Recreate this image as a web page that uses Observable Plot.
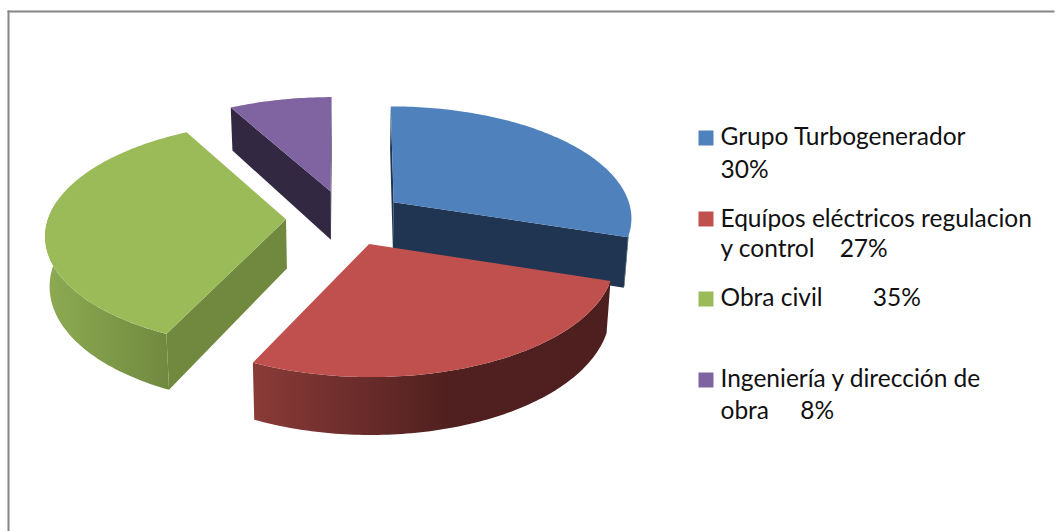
<!DOCTYPE html>
<html>
<head>
<meta charset="utf-8">
<style>html,body{margin:0;padding:0;background:#fff}svg{display:block}</style>
<script src="https://cdn.jsdelivr.net/npm/d3@7"></script>
<script src="https://cdn.jsdelivr.net/npm/@observablehq/plot@0.6"></script>
</head>
<body>
<div id="chart"></div>
<script>
const categories = ["Grupo Turbogenerador", "Equípos eléctricos regulacion y control", "Obra civil", "Ingeniería y dirección de obra"];
const values = [30, 27, 35, 8];
const topColors = ["#4f81bd", "#c0504d", "#9bbb59", "#8064a2"];
const cutColors = ["#1f3552", "#4d201e", "#71893f", "#322842"];
const legendLines = [
  ["Grupo Turbogenerador", "30%"],
  ["Equípos eléctricos regulacion", "y control    27%"],
  ["Obra civil        35%"],
  ["Ingeniería y dirección de", "obra     8%"]
];
const legendSwatchTop = [130, 211, 291, 372];
const legendBaselines = [[145, 178], [227, 257], [306], [387, 419]];

// 3D pie model
const W = 1055, H = 531;
const ML = 8, MT = 11, MR = 2;
const cx = 345, cy = 218, pxX = 238, pxY = 111;
const k = 0.135, explode = 0.25, depth = 49 / pxY, shrink = 0.985, spread = 0.5, farBias = 0.6;
const toRad = Math.PI / 180;

function project(a, r, th, z) {
  const u = r * Math.sin(th), v = r * Math.cos(th), w = 1 + k * (v + farBias * a.y), w0 = 1 + k * v, g = 1 + spread * (1 / w0 - 1);
  const X = a.x * g + u / w, Y = a.y * g + v / w - z / w;
  return {X: z ? X * shrink : X, Y};
}
const arcs = d3.pie().sort(null).startAngle(0).endAngle(2 * Math.PI)(values);
const range = (a, b) => {
  const n = Math.max(1, Math.ceil((b - a) / toRad)), o = [];
  for (let i = 0; i <= n; i++) o.push(a + (b - a) * i / n);
  return o;
};
const shoelace = (p) => d3.sum(p, (q, i) => { const n = p[(i + 1) % p.length]; return q.X * n.Y - n.X * q.Y; });

function slice(arc, i) {
  const m = (arc.startAngle + arc.endAngle) / 2;
  const a = {x: explode * Math.sin(m), y: explode * Math.cos(m)};
  const th = range(arc.startAngle, arc.endAngle);
  const top = [project(a, 0, 0, 0), ...th.map((t) => project(a, 1, t, 0))];
  const lo = Math.max(arc.startAngle, 107 * toRad), hi = Math.min(arc.endAngle, 280 * toRad);
  const rimTh = lo < hi ? range(lo, hi) : [];
  const rim = [...rimTh.map((t) => project(a, 1, t, 0)), ...rimTh.slice().reverse().map((t) => project(a, 1, t, depth))];
  const face = (t) => [project(a, 0, 0, 0), project(a, 1, t, 0), project(a, 1, t, depth), project(a, 0, 0, depth)];
  const startFace = face(arc.startAngle), endFace = face(arc.endAngle);
  const faces = [];
  if (shoelace(startFace) > 0) faces.push(startFace);
  if (shoelace(endFace) < 0) faces.push(endFace);
  return {i, top, rim, faces};
}
const slices = arcs.map(slice);
const paintOrder = [3, 0, 2, 1];
const rimFill = ["#1f3552", "url(#redRim)", "url(#greenRim)", "#322842"];

const poly = (pts, fill) => Plot.line(pts, {x: "X", y: "Y", fill, stroke: "none", curve: "linear"});

const gradients = () => {
  const defs = d3.create("svg:defs");
  const add = (id, stops) => {
    const g = defs.append("linearGradient").attr("id", id).attr("x1", 0).attr("x2", 1).attr("y1", 0).attr("y2", 0);
    stops.forEach(([o, c]) => g.append("stop").attr("offset", o).attr("stop-color", c));
  };
  add("redRim", [[0, "#8a3b38"], [0.55, "#4f201f"], [1, "#4d1f1e"]]);
  add("greenRim", [[0, "#8dab52"], [1, "#71893f"]]);
  return defs.node();
};

const marks = [
  gradients,
  Plot.frame({anchor: "top", stroke: "#868686", strokeWidth: 2, strokeOpacity: 1}),
  Plot.frame({anchor: "left", stroke: "#868686", strokeWidth: 2, strokeOpacity: 1})
];
for (const i of paintOrder) {
  const s = slices[i];
  if (s.rim.length) marks.push(poly(s.rim, rimFill[i]));
  s.faces.forEach((f) => marks.push(poly(f, cutColors[i])));
  marks.push(poly(s.top, topColors[i]));
}
legendLines.forEach((lines, i) => {
  marks.push(Plot.dot([categories[i]], {
    frameAnchor: "top-left", dx: 705.5 - ML, dy: legendSwatchTop[i] + 7.5 - MT,
    symbol: "square", r: 15 / Math.sqrt(Math.PI), fill: topColors[i], stroke: "none"
  }));
  lines.forEach((line, j) => {
    marks.push(Plot.text([line], {
      text: (d) => d, frameAnchor: "top-left", textAnchor: "start", lineAnchor: "middle",
      dx: 720 - ML, dy: legendBaselines[i][j] - 8 - MT,
      fontSize: 24.5, fill: "#111", lineWidth: Infinity
    }));
  });
});

const plot = Plot.plot({
  width: W, height: H,
  marginLeft: ML, marginTop: MT, marginRight: MR, marginBottom: 0,
  x: {domain: [(ML - cx) / pxX, (W - MR - cx) / pxX], axis: null},
  y: {domain: [(cy - H) / pxY, (cy - MT) / pxY], axis: null},
  style: {fontFamily: "Lato, sans-serif", background: "#fff", whiteSpace: "pre"},
  marks
});
document.getElementById("chart").append(plot);
</script>
</body>
</html>
